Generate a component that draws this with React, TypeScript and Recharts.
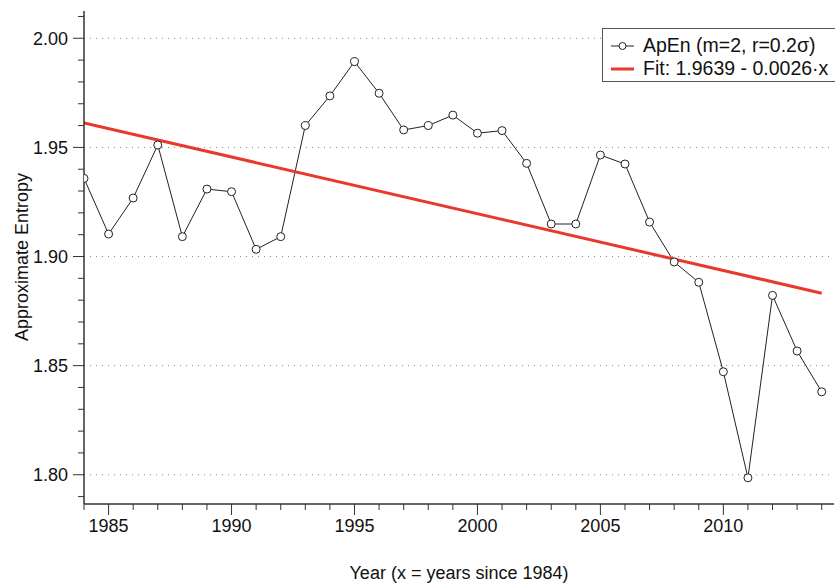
import React from 'react';
import {
    LineChart, Line, XAxis, YAxis, ReferenceLine, Legend
} from 'recharts';

const years = [
    1984, 1985, 1986, 1987, 1988, 1989, 1990, 1991, 1992, 1993, 1994,
    1995, 1996, 1997, 1998, 1999, 2000, 2001, 2002, 2003, 2004,
    2005, 2006, 2007, 2008, 2009, 2010, 2011, 2012, 2013, 2014,
];
const apenValues = [
    1.9358, 1.9103, 1.9268, 1.9511, 1.9091, 1.9309, 1.9297, 1.9033, 1.9091, 1.9600, 1.9736,
    1.9893, 1.9748, 1.9580, 1.9600, 1.9648, 1.9565, 1.9577, 1.9427, 1.9149, 1.9149,
    1.9465, 1.9424, 1.9158, 1.8975, 1.8882, 1.8472, 1.7986, 1.8822, 1.8567, 1.8380,
];
const fitYears = [1984, 2014];
const fitValues = [1.9612, 1.8832];

const xTicks = years;
const xMajor = [1985, 1990, 1995, 2000, 2005, 2010];
const yTicks = [
    1.79, 1.80, 1.81, 1.82, 1.83, 1.84, 1.85, 1.86, 1.87, 1.88, 1.89,
    1.90, 1.91, 1.92, 1.93, 1.94, 1.95, 1.96, 1.97, 1.98, 1.99, 2.00, 2.01,
];
const yMajor = [1.80, 1.85, 1.90, 1.95, 2.00];

const data = years.map((year, i) => {
    const f = fitYears.indexOf(year);
    return { year, apen: apenValues[i], fit: f >= 0 ? fitValues[f] : null };
});

const FONT = '"Liberation Sans", Arial, Helvetica, sans-serif';
const AXIS = '#333';
const PLOT_LEFT = 84;
const PLOT_BOTTOM = 504;

const isMajorY = (v: number) => yMajor.some((m) => Math.abs(m - v) < 1e-6);

function YTick(props: any) {
    const { y, payload } = props;
    const major = isMajorY(payload.value);
    return (
        <g>
            <line x1={PLOT_LEFT - (major ? 11 : 6)} x2={PLOT_LEFT} y1={y} y2={y} stroke={AXIS} strokeWidth={1} />
            {major && (
                <text x={68} y={y} dy="0.36em" textAnchor="end" fontSize={18} fontFamily={FONT} fill="#111">
                    {payload.value.toFixed(2)}
                </text>
            )}
        </g>
    );
}

function XTick(props: any) {
    const { x, payload } = props;
    const major = xMajor.includes(payload.value);
    return (
        <g>
            <line x1={x} x2={x} y1={PLOT_BOTTOM} y2={PLOT_BOTTOM + (major ? 11 : 6)} stroke={AXIS} strokeWidth={1} />
            {major && (
                <text x={x} y={PLOT_BOTTOM + 27.5} textAnchor="middle" fontSize={18} fontFamily={FONT} fill="#111">
                    {payload.value}
                </text>
            )}
        </g>
    );
}

function LegendBox() {
    return (
        <div style={{ width: 240, height: 52, border: '1px solid #555', background: '#fff' }}>
            <svg width={240} height={52} style={{ display: 'block' }}>
                <line x1={8} x2={31} y1={17} y2={17} stroke="#222" strokeWidth={1} />
                <circle cx={19.5} cy={17} r={3.5} fill="#fff" stroke="#222" strokeWidth={1} />
                <text x={40} y={23} fontSize={19.5} fontFamily={FONT} fill="#111">ApEn (m=2, r=0.2σ)</text>
                <line x1={8} x2={31} y1={40} y2={40} stroke="#e8392b" strokeWidth={3} />
                <text x={40} y={46} fontSize={19.5} fontFamily={FONT} fill="#111">Fit: 1.9639 - 0.0026·x</text>
            </svg>
        </div>
    );
}

export default function App() {
    return (
        <div style={{ position: 'absolute', left: 0, top: 0, width: 835, height: 586, overflow: 'hidden', background: '#fff' }}>
            <LineChart width={835} height={586} data={data} margin={{ top: 11, right: 1, bottom: 0, left: 0 }}>
                <XAxis
                    dataKey="year"
                    type="number"
                    domain={[1984, 2014.5]}
                    ticks={xTicks}
                    interval={0}
                    height={82}
                    allowDataOverflow
                    axisLine={{ stroke: AXIS, strokeWidth: 1.5 }}
                    tickLine={false}
                    tick={<XTick />}
                    label={{
                        content: () => (
                            <text x={459} y={579} textAnchor="middle" fontSize={18} fontFamily={FONT} fill="#111">
                                Year (x = years since 1984)
                            </text>
                        ),
                    }}
                />
                <XAxis
                    xAxisId="top"
                    dataKey="year"
                    type="number"
                    orientation="top"
                    domain={[1984, 2014.5]}
                    height={0}
                    tick={false}
                    tickLine={false}
                    axisLine={{ stroke: AXIS, strokeWidth: 1.5 }}
                />
                <YAxis
                    type="number"
                    domain={[1.7866, 2.0125]}
                    ticks={yTicks}
                    interval={0}
                    width={84}
                    allowDataOverflow
                    axisLine={{ stroke: AXIS, strokeWidth: 1.5 }}
                    tickLine={false}
                    tick={<YTick />}
                    label={{
                        content: () => (
                            <text
                                x={22}
                                y={257}
                                transform="rotate(-90 22 257)"
                                textAnchor="middle"
                                dominantBaseline="central"
                                fontSize={18}
                                fontFamily={FONT}
                                fill="#111"
                            >
                                Approximate Entropy
                            </text>
                        ),
                    }}
                />
                {yMajor.map((v) => (
                    <ReferenceLine key={v} y={v} stroke="#888" strokeDasharray="1 5" strokeWidth={1} />
                ))}
                <Legend
                    layout="vertical"
                    align="center"
                    verticalAlign="middle"
                    wrapperStyle={{ position: 'absolute', left: 602, top: 28, width: 'auto' }}
                    content={() => <LegendBox />}
                />
                <Line
                    dataKey="apen"
                    stroke="#222"
                    strokeWidth={1}
                    dot={{ r: 4, fill: '#fff', stroke: '#222', strokeWidth: 1 }}
                    activeDot={false}
                    isAnimationActive={false}
                />
                <Line
                    dataKey="fit"
                    stroke="#e8392b"
                    strokeWidth={3}
                    dot={false}
                    activeDot={false}
                    connectNulls
                    isAnimationActive={false}
                />
            </LineChart>
        </div>
    );
}
